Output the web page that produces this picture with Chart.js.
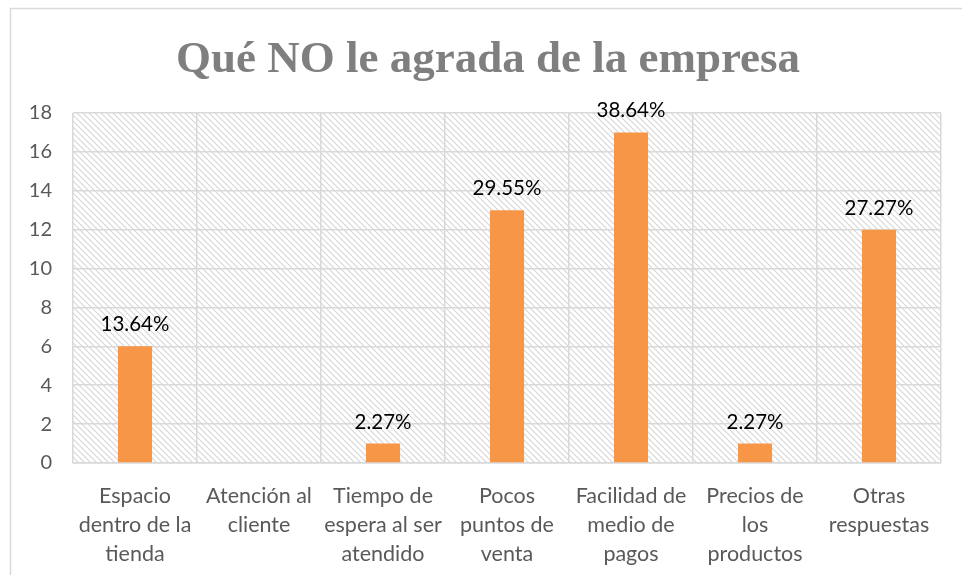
<!DOCTYPE html>
<html>
<head>
<meta charset="utf-8">
<script src="https://cdn.jsdelivr.net/npm/chart.js@4/dist/chart.umd.min.js"></script>
<style>
	html, body { margin: 0; padding: 0; background: #fff; }
	#wrap { width: 962px; height: 575px; }
</style>
</head>
<body>
<div id="wrap"><canvas id="grafico"></canvas></div>
<script>
const titulo = "Qué NO le agrada de la empresa";
const categorias = [
	["Espacio", "dentro de la", "tienda"],
	["Atención al", "cliente"],
	["Tiempo de", "espera al ser", "atendido"],
	["Pocos", "puntos de", "venta"],
	["Facilidad de", "medio de", "pagos"],
	["Precios de", "los", "productos"],
	["Otras", "respuestas"],
];
const respuestas = [6, 0, 1, 13, 17, 1, 12];
const porcentajes = ["13.64%", "0.00%", "2.27%", "29.55%", "38.64%", "2.27%", "27.27%"];

const gris = "#d9d9d9";
const fuente = "Lato, 'Liberation Sans', sans-serif";

// fondo rayado del area de trazado
function rayado() {
	const c = document.createElement("canvas");
	c.width = 6;
	c.height = 6;
	const g = c.getContext("2d");
	g.strokeStyle = "#d6d6d6";
	g.lineWidth = 1.1;
	g.beginPath();
	g.moveTo(-1, -1); g.lineTo(7, 7);
	g.moveTo(-1, 5); g.lineTo(1, 7);
	g.moveTo(5, -1); g.lineTo(7, 1);
	g.stroke();
	return c;
}

const fondo = {
	id: "fondo",
	beforeDraw(chart) {
		const { ctx, chartArea: a } = chart;
		ctx.save();
		ctx.strokeStyle = gris;
		ctx.lineWidth = 1.5;
		ctx.strokeRect(10.5, 8.5, 1200, 1000);
		ctx.fillStyle = ctx.createPattern(rayado(), "repeat");
		ctx.fillRect(a.left, a.top, a.right - a.left, a.bottom - a.top);
		// titulo (centrado sobre el marco completo, como en Excel)
		ctx.font = "bold 45px 'Liberation Serif', 'DejaVu Serif', serif";
		ctx.fillStyle = "#7f7f7f";
		ctx.textAlign = "center";
		ctx.textBaseline = "alphabetic";
		ctx.fillText(titulo, 488, 72);
		ctx.restore();
	},
};

const etiquetas = {
	id: "etiquetas",
	afterDatasetsDraw(chart) {
		const { ctx } = chart;
		const meta = chart.getDatasetMeta(0);
		ctx.save();
		ctx.font = "20.5px " + fuente;
		ctx.fillStyle = "#000";
		ctx.textAlign = "center";
		ctx.textBaseline = "alphabetic";
		meta.data.forEach((bar, i) => {
			if (!respuestas[i]) return;
			ctx.fillText(porcentajes[i], bar.x, bar.y - 15);
		});
		ctx.restore();
	},
};

new Chart(document.getElementById("grafico"), {
	type: "bar",
	data: {
		labels: categorias,
		datasets: [
			{
				data: respuestas,
				backgroundColor: "#f79646",
				borderWidth: 0,
				categoryPercentage: 1,
				barPercentage: 0.275,
			},
		],
	},
	options: {
		responsive: true,
		maintainAspectRatio: false,
		animation: false,
		layout: { padding: { left: 10, right: 21, top: 113, bottom: 0 } },
		plugins: {
			legend: { display: false },
			tooltip: { enabled: false },
			title: { display: false },
		},
		scales: {
			y: {
				min: 0,
				max: 18,
				ticks: {
					stepSize: 2,
					color: "#595959",
					font: { family: fuente, size: 20 },
					padding: 21,
				},
				grid: { color: gris, lineWidth: 1.5, drawTicks: false },
				border: { display: false },
				afterFit(s) { s.width = 63; },
			},
			x: {
				ticks: {
					color: "#595959",
					font: { family: fuente, size: 21.5, lineHeight: 1.35 },
					padding: 18.5,
					maxRotation: 0,
					autoSkip: false,
				},
				grid: { color: gris, lineWidth: 1.5, drawTicks: false },
				border: { color: gris, width: 1.5 },
				afterFit(s) { s.height = 112; },
			},
		},
	},
	plugins: [fondo, etiquetas],
});
</script>
</body>
</html>
